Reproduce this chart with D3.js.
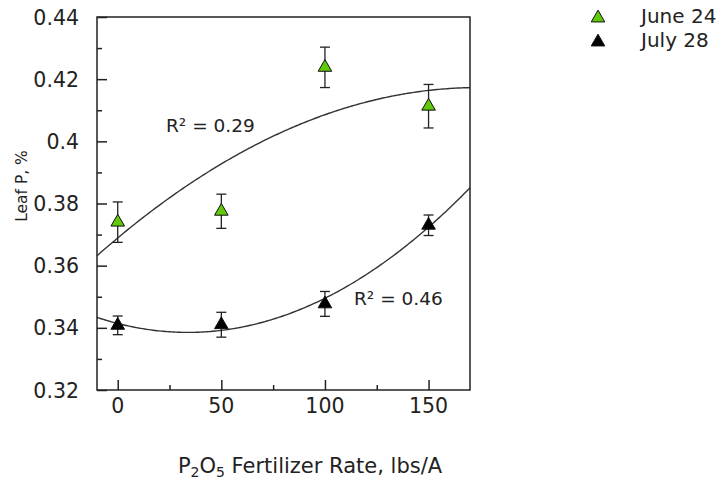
<!DOCTYPE html>
<html>
<head>
<meta charset="utf-8">
<script src="https://cdn.jsdelivr.net/npm/d3@7"></script>
<style>
  body { margin: 0; background: #fff; }
  svg { font-family: "DejaVu Sans", sans-serif; }
</style>
</head>
<body>
<div id="chart"></div>
<script>
// data
const rates = [0, 50, 100, 150];
const june = [0.374, 0.3775, 0.4238, 0.4113];
const juneErr = [0.0065, 0.0055, 0.0065, 0.007];
const july = [0.3408, 0.341, 0.3477, 0.373];
const julyErr = [0.003, 0.004, 0.004, 0.0033];
const seriesNames = ["June 24", "July 28"];
const r2Labels = ["R\u00b2 = 0.29", "R\u00b2 = 0.46"];
const yTicks = [0.32, 0.34, 0.36, 0.38, 0.4, 0.42, 0.44];
const xTicks = [0, 50, 100, 150];

const width = 727, height = 487;
const margin = {left: 97, top: 17, right: 257, bottom: 97};

const svg = d3.select("#chart").append("svg")
    .attr("width", width)
    .attr("height", height);

const x = d3.scaleLinear().domain([-10, 170]).range([margin.left, width - margin.right]);
const y = d3.scaleLinear().domain([0.32, 0.44]).range([height - margin.bottom, margin.top]);

// quadratic least squares on the means
function quadFit(xs, ys) {
    let s = [0, 0, 0, 0, 0], t = [0, 0, 0];
    xs.forEach((xv, i) => {
        for (let k = 0; k < 5; k++) s[k] += Math.pow(xv, k);
        for (let k = 0; k < 3; k++) t[k] += Math.pow(xv, k) * ys[i];
    });
    const m = [[s[0], s[1], s[2], t[0]], [s[1], s[2], s[3], t[1]], [s[2], s[3], s[4], t[2]]];
    for (let i = 0; i < 3; i++) {
        for (let j = i + 1; j < 3; j++) {
            const f = m[j][i] / m[i][i];
            for (let k = i; k < 4; k++) m[j][k] -= f * m[i][k];
        }
    }
    const c = [0, 0, 0];
    for (let i = 2; i >= 0; i--) {
        let v = m[i][3];
        for (let k = i + 1; k < 3; k++) v -= m[i][k] * c[k];
        c[i] = v / m[i][i];
    }
    return xv => c[0] + c[1] * xv + c[2] * xv * xv;
}

const series = [
    {name: seriesNames[0], vals: june, err: juneErr, fill: "#62c80c", label: r2Labels[0], lx: 166, ly: 132},
    {name: seriesNames[1], vals: july, err: julyErr, fill: "#000", label: r2Labels[1], lx: 354, ly: 305}
];

const line = d3.line().x(d => x(d[0])).y(d => y(d[1]));
const xDomain = x.domain();

series.forEach(s => {
    const f = quadFit(rates, s.vals);
    const pts = d3.range(xDomain[0], xDomain[1] + 0.5, 1).map(v => [v, f(v)]);
    svg.append("path")
        .attr("d", line(pts))
        .attr("fill", "none")
        .attr("stroke", "#333")
        .attr("stroke-width", 1.4);
});

// frame
svg.append("rect")
    .attr("x", x.range()[0]).attr("y", y.range()[1])
    .attr("width", x.range()[1] - x.range()[0])
    .attr("height", y.range()[0] - y.range()[1])
    .attr("fill", "none").attr("stroke", "#222").attr("stroke-width", 1.5);

// y axis, ticks inward
const yAxis = svg.append("g").attr("transform", `translate(${x.range()[0]},0)`)
    .call(d3.axisRight(y).tickValues(d3.range(0.32, 0.4401, 0.01)).tickSize(5).tickFormat(""));
yAxis.selectAll(".tick line").filter(d => yTicks.some(t => Math.abs(t - d) < 1e-6)).attr("x2", 10);
yAxis.select(".domain").remove();
yAxis.selectAll("line").attr("stroke", "#222").attr("stroke-width", 1.5);

svg.append("g").selectAll("text").data(yTicks).join("text")
    .attr("x", 79).attr("y", d => y(d) + 7.5)
    .attr("text-anchor", "end")
    .attr("font-size", 20.5).attr("fill", "#222")
    .text(d => d3.format("")(+d.toFixed(2)));

// x axis, ticks inward
const xAxis = svg.append("g").attr("transform", `translate(0,${y.range()[0]})`)
    .call(d3.axisTop(x).tickValues([0, 25, 50, 75, 100, 125, 150]).tickSize(5).tickFormat(""));
xAxis.selectAll(".tick line").filter(d => xTicks.includes(d)).attr("y2", -10);
xAxis.select(".domain").remove();
xAxis.selectAll("line").attr("stroke", "#222").attr("stroke-width", 1.5);

svg.append("g").selectAll("text").data(xTicks).join("text")
    .attr("x", d => x(d)).attr("y", 413)
    .attr("text-anchor", "middle")
    .attr("font-size", 20.5).attr("fill", "#222")
    .text(d => d);

// error bars and markers
const tri = d3.symbol().type(d3.symbolTriangle).size(80);
series.forEach(s => {
    const g = svg.append("g");
    rates.forEach((r, i) => {
        const cx = x(r), y0 = y(s.vals[i] - s.err[i]), y1 = y(s.vals[i] + s.err[i]);
        g.append("line").attr("x1", cx).attr("x2", cx).attr("y1", y0).attr("y2", y1)
            .attr("stroke", "#222").attr("stroke-width", 1.3);
        [y0, y1].forEach(yy => g.append("line")
            .attr("x1", cx - 5).attr("x2", cx + 5).attr("y1", yy).attr("y2", yy)
            .attr("stroke", "#222").attr("stroke-width", 1.3));
        g.append("path").attr("d", tri)
            .attr("transform", `translate(${cx},${y(s.vals[i])})`)
            .attr("fill", s.fill).attr("stroke", "#111").attr("stroke-width", 1);
    });
    svg.append("text")
        .attr("x", s.lx).attr("y", s.ly)
        .attr("font-size", 18.5).attr("fill", "#222")
        .text(s.label);
});

// legend
const leg = svg.append("g");
series.forEach((s, i) => {
    leg.append("path").attr("d", tri)
        .attr("transform", `translate(598,${18 + i * 24})`)
        .attr("fill", s.fill).attr("stroke", "#111").attr("stroke-width", 1);
    leg.append("text")
        .attr("x", 641).attr("y", 23 + i * 24)
        .attr("font-size", 20).attr("fill", "#222")
        .text(s.name);
});

// axis titles
svg.append("text")
    .attr("transform", "translate(27,186) rotate(-90)")
    .attr("text-anchor", "middle")
    .attr("font-size", 15.5).attr("fill", "#222")
    .text("Leaf P, %");

const xt = svg.append("text")
    .attr("x", 310).attr("y", 473)
    .attr("text-anchor", "middle")
    .attr("font-size", 21).attr("fill", "#222");
xt.append("tspan").text("P");
xt.append("tspan").attr("font-size", 14).attr("dy", 4).text("2");
xt.append("tspan").attr("dy", -4).text("O");
xt.append("tspan").attr("font-size", 14).attr("dy", 4).text("5");
xt.append("tspan").attr("dy", -4).text(" Fertilizer Rate, lbs/A");
</script>
</body>
</html>
